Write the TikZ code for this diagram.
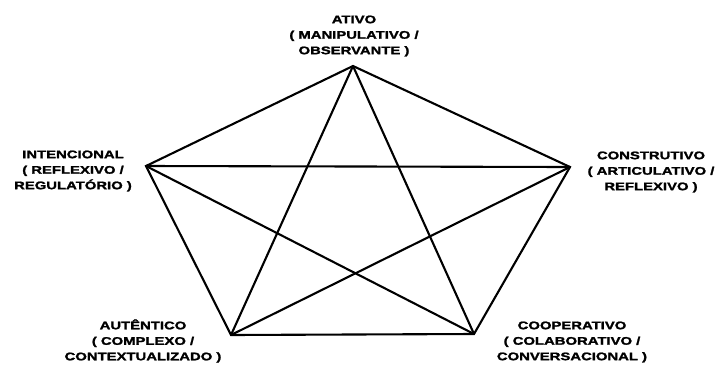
\documentclass[tikz,border=0pt]{standalone}
\usepackage{fontspec}
\setmainfont{Liberation Sans}
\newfontfamily\lblfont[FakeStretch=1.35, FakeBold=1.8]{Liberation Sans Bold}
\usepackage{tikz}
\usetikzlibrary{positioning,calc}
\tikzset{
  edge/.style={draw, line width=2.1pt, line join=miter},
  lbl/.style={align=center, font=\lblfont\fontsize{11}{15.5}\selectfont, inner sep=0pt},
}

\begin{document}
\begin{tikzpicture}[x=1pt, y=-1pt]
  \useasboundingbox (0,0) rectangle (721,365);
  % vertices of the pentagon
  \coordinate (ativo) at (353,66);
  \coordinate (intenc) at (146,166);
  \coordinate (constr) at (570,167);
  \coordinate (autent) at (231,335);
  \coordinate (cooper) at (474,334);
  % labels
  \node[lbl] (tA) at (354,36) {ATIVO\\( MANIPULATIVO /\\OBSERVANTE )};
  \node[lbl] (tI) at (73,171) {INTENCIONAL\\( REFLEXIVO /\\REGULATÓRIO )};
  \node[lbl] (tC) at (651,172) {CONSTRUTIVO\\( ARTICULATIVO /\\REFLEXIVO )};
  \node[lbl] (tU) at (143,341) {AUTÊNTICO\\( COMPLEXO /\\CONTEXTUALIZADO )};
  \node[lbl] (tO) at (572,342) {COOPERATIVO\\( COLABORATIVO /\\CONVERSACIONAL )};
  % outer pentagon
  \draw[edge] (ativo) -- (constr) -- (cooper) -- (autent) -- (intenc) -- cycle;
  % inner star
  \draw[edge] (ativo) -- (autent);
  \draw[edge] (ativo) -- (cooper);
  \draw[edge] (intenc) -- (constr);
  \draw[edge] (intenc) -- (cooper);
  \draw[edge] (constr) -- (autent);
\end{tikzpicture}
\end{document}
